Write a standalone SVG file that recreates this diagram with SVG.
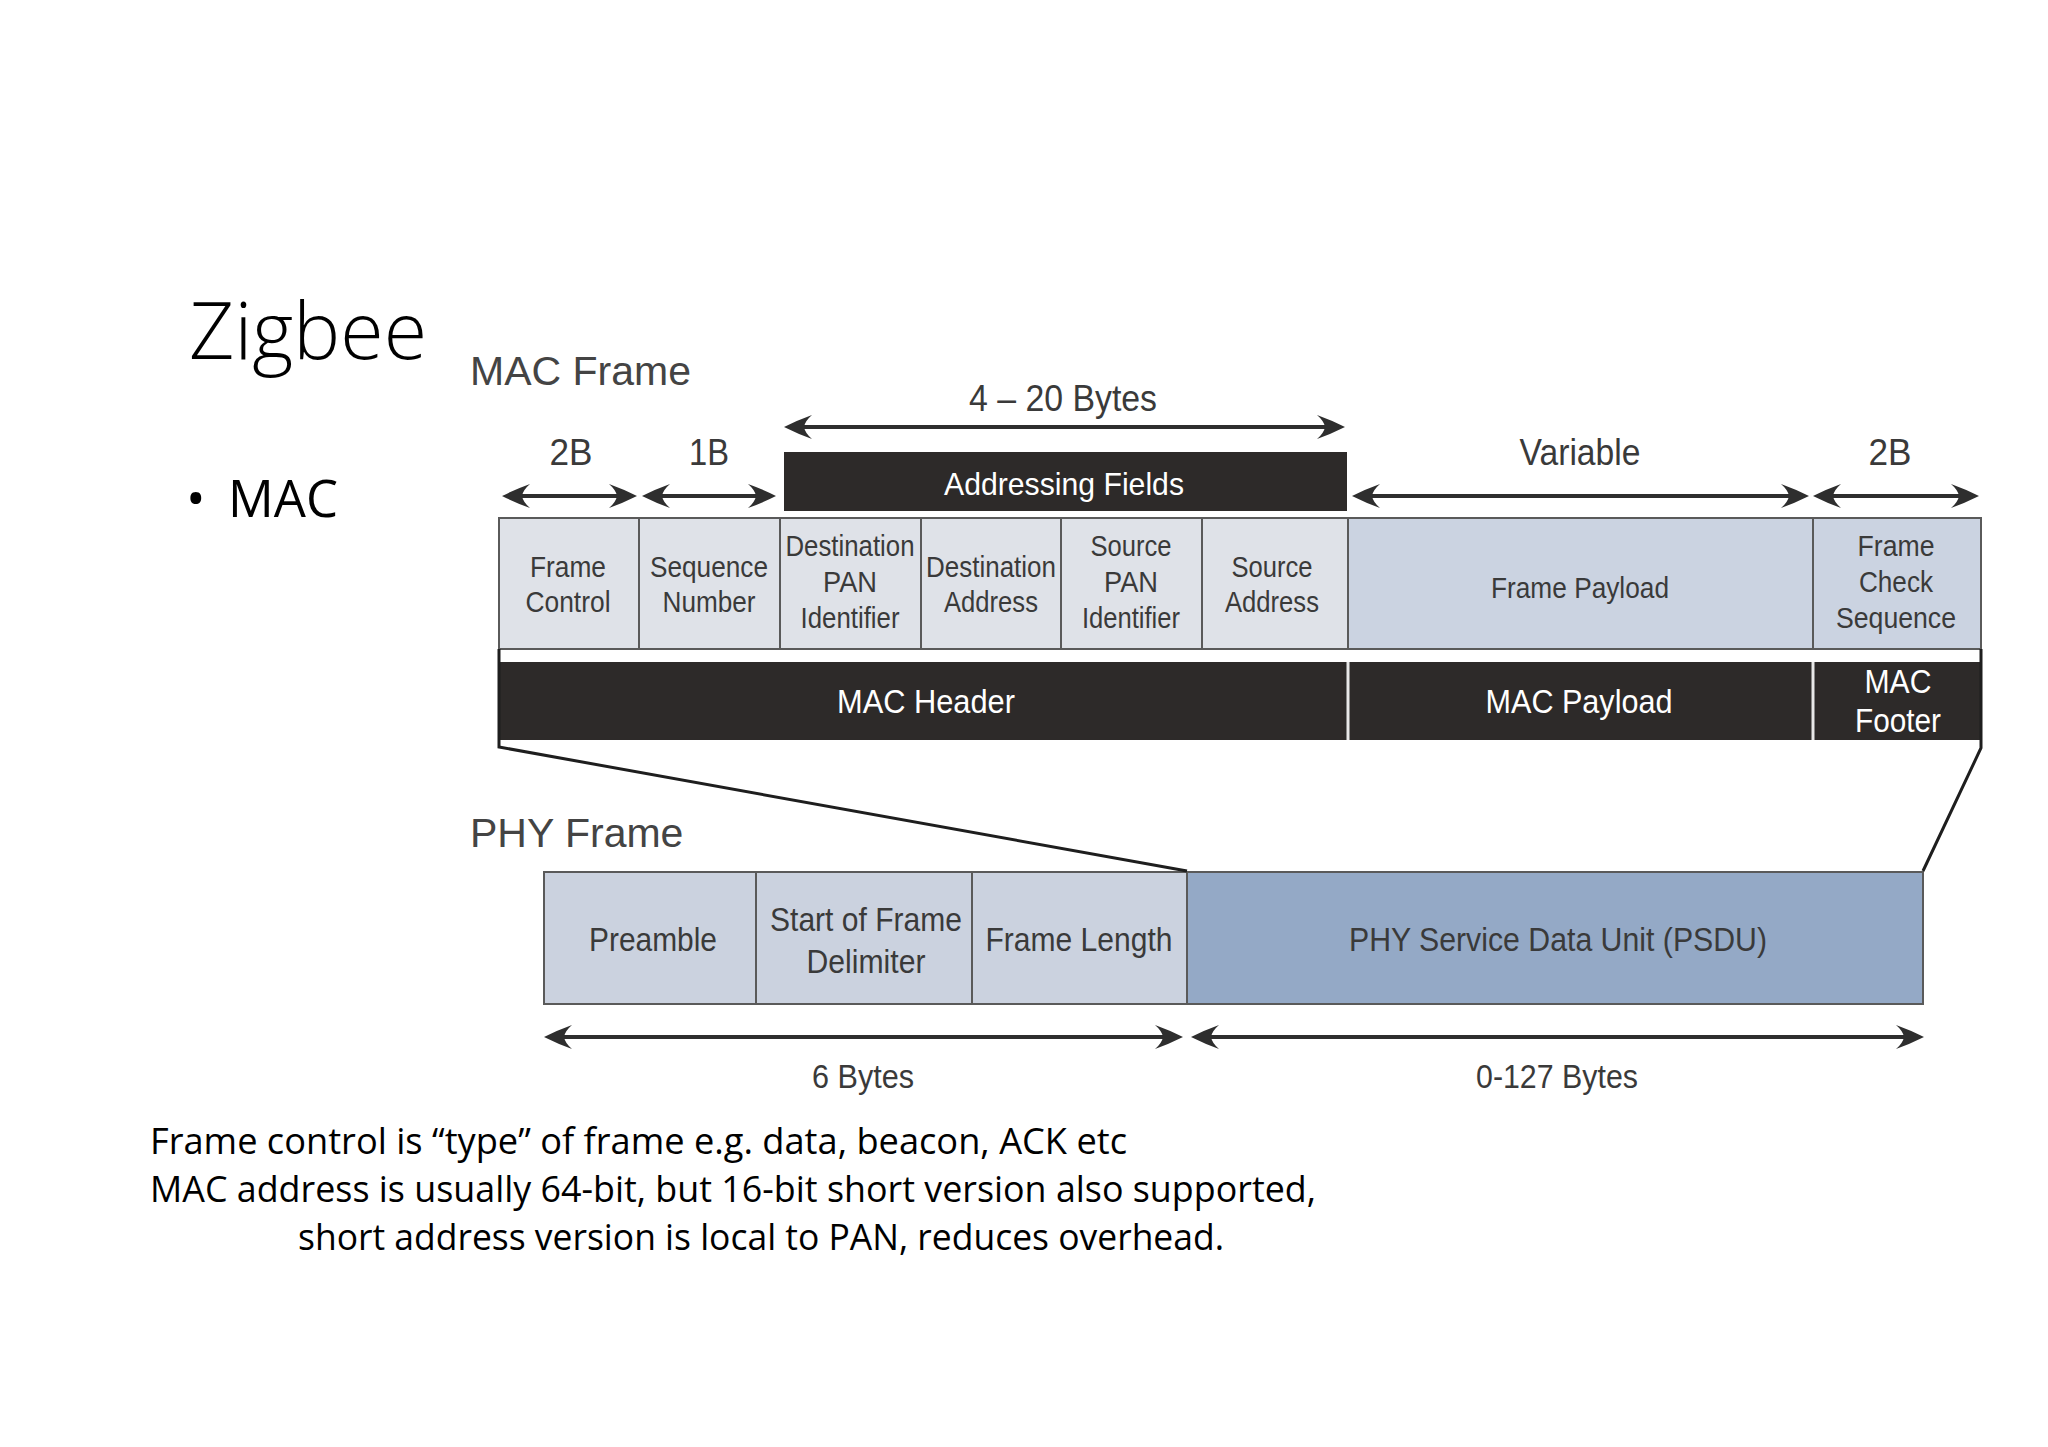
<svg xmlns="http://www.w3.org/2000/svg" width="2048" height="1447" viewBox="0 0 2048 1447">
<defs>
<style>
.lbl{font-family:"Liberation Sans",Arial,sans-serif;fill:#3a3a3a;text-anchor:middle}
.c{font-size:29px}
.top{font-size:36px}
.bd{font-size:33px}
.w{fill:#ffffff}
.hdr{font-family:"Liberation Sans",Arial,sans-serif;fill:#444;font-size:41px}
.slide{font-family:"Open Sans","Noto Sans",sans-serif;fill:#000}
.cellA{fill:#dfe2e8;stroke:#5a5a5a;stroke-width:2}
.cellB{fill:#cbd3e1;stroke:#5a5a5a;stroke-width:2}
.phyA{fill:#cbd2df;stroke:#5a5a5a;stroke-width:2}
.phyB{fill:#94a9c6;stroke:#5a5a5a;stroke-width:2}
.dark{fill:#2d2a29}
.arr{stroke:#2e2e2e;stroke-width:4;fill:none;marker-start:url(#ah);marker-end:url(#ah)}
.out{stroke:#1e1e1e;stroke-width:3;fill:none}
</style>
<marker id="ah" viewBox="0 0 28 24" refX="22" refY="12" markerWidth="28" markerHeight="24" markerUnits="userSpaceOnUse" orient="auto-start-reverse">
<path d="M28,12 Q14,5 0,0 Q7,6 8,12 Q7,18 0,24 Q14,19 28,12 Z" fill="#2e2e2e"/>
</marker>
</defs>
<rect width="2048" height="1447" fill="#ffffff"/>

<g id="slide-text">
<text class="slide" x="189" y="359" font-size="80" font-weight="300" textLength="238" lengthAdjust="spacingAndGlyphs">Zigbee</text>
<text class="slide" x="186" y="517" font-size="52">•</text>
<text class="slide" x="228" y="517" font-size="52" textLength="110" lengthAdjust="spacingAndGlyphs">MAC</text>
<text class="slide" x="150" y="1154" font-size="36" textLength="977" lengthAdjust="spacingAndGlyphs">Frame control is “type” of frame e.g. data, beacon, ACK etc</text>
<text class="slide" x="150" y="1202" font-size="36" textLength="1166" lengthAdjust="spacingAndGlyphs">MAC address is usually 64-bit, but 16-bit short version also supported,</text>
<text class="slide" x="298" y="1250" font-size="36" textLength="926" lengthAdjust="spacingAndGlyphs">short address version is local to PAN, reduces overhead.</text>
</g>

<g id="titles">
<text class="hdr" x="470" y="385">MAC Frame</text>
<text class="hdr" x="470" y="847">PHY Frame</text>
</g>

<g id="size-labels">
<text class="lbl top" x="1063" y="411" textLength="188" lengthAdjust="spacingAndGlyphs">4 – 20 Bytes</text>
<text class="lbl top" x="571" y="465" textLength="43" lengthAdjust="spacingAndGlyphs">2B</text>
<text class="lbl top" x="709" y="465" textLength="40" lengthAdjust="spacingAndGlyphs">1B</text>
<text class="lbl top" x="1580" y="465" textLength="121" lengthAdjust="spacingAndGlyphs">Variable</text>
<text class="lbl top" x="1890" y="465" textLength="43" lengthAdjust="spacingAndGlyphs">2B</text>
<text class="lbl bd" x="863" y="1088" textLength="102" lengthAdjust="spacingAndGlyphs">6 Bytes</text>
<text class="lbl bd" x="1557" y="1088" textLength="162" lengthAdjust="spacingAndGlyphs">0-127 Bytes</text>
</g>

<g id="addressing-fields">
<rect class="dark" x="784" y="452" width="563" height="59"/>
<text class="lbl w" x="1064" y="495" font-size="32" textLength="240" lengthAdjust="spacingAndGlyphs">Addressing Fields</text>
</g>

<g id="mac-fields">
<g id="frame-control">
<rect class="cellA" x="499" y="518" width="140" height="131"/>
<text class="lbl c" x="568" y="577" textLength="76" lengthAdjust="spacingAndGlyphs">Frame</text>
<text class="lbl c" x="568" y="612" textLength="85" lengthAdjust="spacingAndGlyphs">Control</text>
</g>
<g id="sequence-number">
<rect class="cellA" x="639" y="518" width="141" height="131"/>
<text class="lbl c" x="709" y="577" textLength="118" lengthAdjust="spacingAndGlyphs">Sequence</text>
<text class="lbl c" x="709" y="612" textLength="93" lengthAdjust="spacingAndGlyphs">Number</text>
</g>
<g id="dest-pan">
<rect class="cellA" x="780" y="518" width="141" height="131"/>
<text class="lbl c" x="850" y="556" textLength="129" lengthAdjust="spacingAndGlyphs">Destination</text>
<text class="lbl c" x="850" y="592" textLength="54" lengthAdjust="spacingAndGlyphs">PAN</text>
<text class="lbl c" x="850" y="628" textLength="99" lengthAdjust="spacingAndGlyphs">Identifier</text>
</g>
<g id="dest-address">
<rect class="cellA" x="921" y="518" width="140" height="131"/>
<text class="lbl c" x="991" y="577" textLength="130" lengthAdjust="spacingAndGlyphs">Destination</text>
<text class="lbl c" x="991" y="612" textLength="94" lengthAdjust="spacingAndGlyphs">Address</text>
</g>
<g id="source-pan">
<rect class="cellA" x="1061" y="518" width="141" height="131"/>
<text class="lbl c" x="1131" y="556" textLength="81" lengthAdjust="spacingAndGlyphs">Source</text>
<text class="lbl c" x="1131" y="592" textLength="54" lengthAdjust="spacingAndGlyphs">PAN</text>
<text class="lbl c" x="1131" y="628" textLength="98" lengthAdjust="spacingAndGlyphs">Identifier</text>
</g>
<g id="source-address">
<rect class="cellA" x="1202" y="518" width="146" height="131"/>
<text class="lbl c" x="1272" y="577" textLength="81" lengthAdjust="spacingAndGlyphs">Source</text>
<text class="lbl c" x="1272" y="612" textLength="94" lengthAdjust="spacingAndGlyphs">Address</text>
</g>
<g id="frame-payload">
<rect class="cellB" x="1348" y="518" width="465" height="131"/>
<text class="lbl c" x="1580" y="598" textLength="178" lengthAdjust="spacingAndGlyphs">Frame Payload</text>
</g>
<g id="fcs">
<rect class="cellB" x="1813" y="518" width="168" height="131"/>
<text class="lbl c" x="1896" y="556" textLength="77" lengthAdjust="spacingAndGlyphs">Frame</text>
<text class="lbl c" x="1896" y="592" textLength="74" lengthAdjust="spacingAndGlyphs">Check</text>
<text class="lbl c" x="1896" y="628" textLength="120" lengthAdjust="spacingAndGlyphs">Sequence</text>
</g>
</g>

<g id="mac-bands">
<rect class="dark" x="499" y="662" width="1482" height="78"/>
<line x1="1348" y1="662" x2="1348" y2="740" stroke="#e8e8e8" stroke-width="3"/>
<line x1="1813" y1="662" x2="1813" y2="740" stroke="#e8e8e8" stroke-width="3"/>
<g id="mac-header"><text class="lbl w bd" x="926" y="713" textLength="178" lengthAdjust="spacingAndGlyphs">MAC Header</text></g>
<g id="mac-payload"><text class="lbl w bd" x="1579" y="713" textLength="187" lengthAdjust="spacingAndGlyphs">MAC Payload</text></g>
<g id="mac-footer">
<text class="lbl w bd" x="1898" y="693" textLength="67" lengthAdjust="spacingAndGlyphs">MAC</text>
<text class="lbl w bd" x="1898" y="732" textLength="86" lengthAdjust="spacingAndGlyphs">Footer</text>
</g>
</g>

<g id="phy-fields">
<g id="preamble">
<rect class="phyA" x="544" y="872" width="212" height="132"/>
<text class="lbl bd" x="653" y="951" textLength="128" lengthAdjust="spacingAndGlyphs">Preamble</text>
</g>
<g id="sfd">
<rect class="phyA" x="756" y="872" width="216" height="132"/>
<text class="lbl bd" x="866" y="931" textLength="192" lengthAdjust="spacingAndGlyphs">Start of Frame</text>
<text class="lbl bd" x="866" y="973" textLength="119" lengthAdjust="spacingAndGlyphs">Delimiter</text>
</g>
<g id="frame-length">
<rect class="phyA" x="972" y="872" width="215" height="132"/>
<text class="lbl bd" x="1079" y="951" textLength="187" lengthAdjust="spacingAndGlyphs">Frame Length</text>
</g>
<g id="psdu">
<rect class="phyB" x="1187" y="872" width="736" height="132"/>
<text class="lbl bd" x="1558" y="951" textLength="418" lengthAdjust="spacingAndGlyphs">PHY Service Data Unit (PSDU)</text>
</g>
</g>

<g id="connectors">
<line class="arr" x1="790" y1="427" x2="1339" y2="427"/>
<line class="arr" x1="508" y1="496" x2="631" y2="496"/>
<line class="arr" x1="648" y1="496" x2="770" y2="496"/>
<line class="arr" x1="1358" y1="496" x2="1803" y2="496"/>
<line class="arr" x1="1819" y1="496" x2="1973" y2="496"/>
<line class="arr" x1="550" y1="1037" x2="1177" y2="1037"/>
<line class="arr" x1="1197" y1="1037" x2="1918" y2="1037"/>
<polyline class="out" points="499,649 499,747 1187,871"/>
<polyline class="out" points="1981,649 1981,748 1923,871"/>
</g>
</svg>
